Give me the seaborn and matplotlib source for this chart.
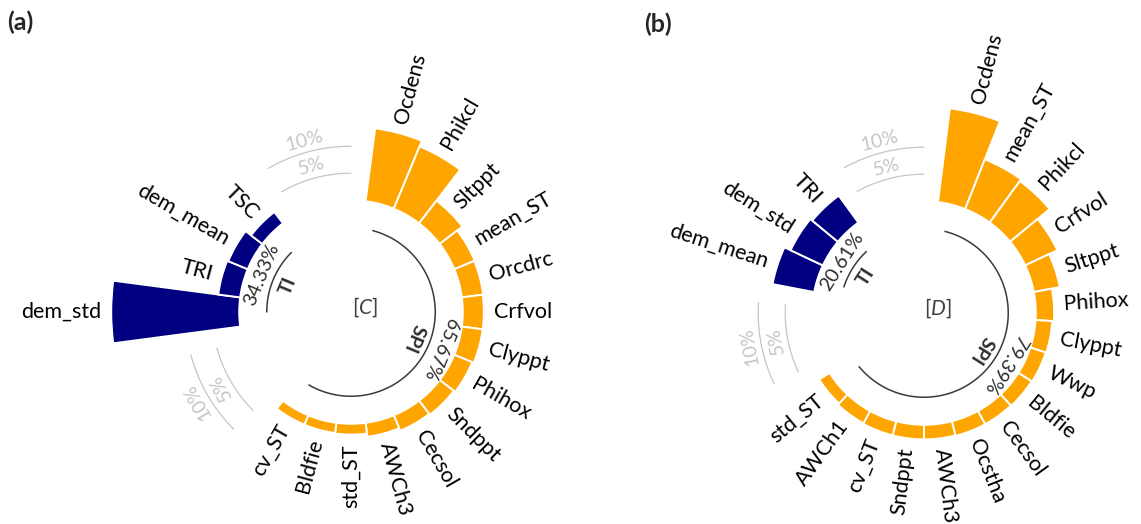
import numpy as np
import matplotlib
matplotlib.use("Agg")
import matplotlib.pyplot as plt
import seaborn as sns

# ---- relative importance (%) of the covariates -------------------------
# panel (a): [C]
a_ti_names = ["dem_std", "TRI", "dem_mean", "TSC"]
a_ti_vals = [23.7, 4.1, 3.9, 2.63]
a_spi_names = ["Ocdens", "Phikcl", "Sltppt", "mean_ST", "Orcdrc", "Crfvol", "Clyppt",
               "Phihox", "Sndppt", "Cecsol", "AWCh3", "std_ST", "Bldfie", "cv_ST"]
a_spi_vals = [13.6, 12.5, 5.3, 4.1, 4.0, 3.9, 3.9, 3.6, 3.3, 3.1, 2.6, 2.0, 1.9, 1.87]

# panel (b): [D]
b_ti_names = ["dem_mean", "dem_std", "TRI"]
b_ti_vals = [7.85, 6.6, 6.16]
b_spi_names = ["Ocdens", "mean_ST", "Phikcl", "Crfvol", "Sltppt", "Phihox", "Clyppt", "Wwp",
               "Bldfie", "Cecsol", "Ocstha", "AWCh3", "Sndppt", "cv_ST", "AWCh1", "std_ST"]
b_spi_vals = [17.5, 9.9, 9.5, 6.6, 4.9, 3.4, 3.1, 3.0, 2.9, 2.8, 2.8, 2.7, 2.7, 2.7, 2.6, 2.29]

grid_levels = [5, 10]
group_names = ["SPI", "TI"]

# ---- style ---------------------------------------------------------------
sns.set_theme(style="white")
plt.rcParams["font.family"] = ["Lato", "DejaVu Sans"]
plt.rcParams["mathtext.fontset"] = "custom"
plt.rcParams["mathtext.rm"] = "Lato"
plt.rcParams["mathtext.it"] = "Lato:italic"

SPI_COLOR, TI_COLOR = sns.color_palette(["#FFA500", "#000080"])
GRID_COLOR = "#c6c6c6"
ARC_COLOR = "#3a3a3a"

W, H = 1141, 524
PX_PER_UNIT = 5.4          # pixels per percent along the radius
HOLE = 20.7                # empty centre (percent units)
RMAX = 46.0
LABEL_PAD = 1.8
ARC_R = 15.6
PCT_R = 17.9
NAME_R = 12.7

fig = plt.figure(figsize=(W / 100, H / 100), dpi=100)


def polar_axes(cx, cy):
    half = RMAX * PX_PER_UNIT
    ax = fig.add_axes([(cx - half) / W, (H - cy - half) / H, 2 * half / W, 2 * half / H],
                      projection="polar")
    ax.set_theta_zero_location("E")
    ax.set_theta_direction(1)
    ax.set_ylim(0, RMAX)
    ax.set_axis_off()
    return ax


def arc(ax, t0, t1, r, color, lw):
    t = np.radians(np.linspace(t0, t1, 120))
    sns.lineplot(x=t, y=np.full_like(t, r), ax=ax, color=color, lw=lw,
                 sort=False, estimator=None)


def bar_labels(ax, thetas, vals, names):
    for t, v, name in zip(thetas, vals, names):
        d = t % 360
        if 90 < d <= 270:
            rot, ha = d - 180, "right"
        else:
            rot, ha = (d if d <= 90 else d - 360), "left"
        ax.text(np.radians(d), HOLE + v + LABEL_PAD, name, rotation=rot,
                rotation_mode="anchor", ha=ha, va="center", fontsize=15.5, color="black")


def group_arc(ax, t0, t1, title, vals):
    arc(ax, t0, t1, ARC_R, ARC_COLOR, 1.1)
    mid = (t0 + t1) / 2
    rot = mid - 90
    ax.text(np.radians(mid), PCT_R, f"{sum(vals):.2f}%", rotation=rot,
            rotation_mode="anchor", ha="center", va="center", fontsize=14, color="#2e2e2e")
    ax.text(np.radians(mid), NAME_R, title, rotation=rot, rotation_mode="anchor",
            ha="center", va="center", fontsize=14, fontweight="bold", color="#2e2e2e")


def draw_panel(ax, ti_names, ti_vals, spi_names, spi_vals, centre_text):
    n_spi, n_ti = len(spi_vals), len(ti_vals)
    n_slots = n_spi + n_ti + 6
    step = 360 / n_slots
    spi_theta = 90 - step * np.arange(1, n_spi + 1)
    ti_theta = 90 - step * np.arange(n_spi + 4, n_spi + 4 + n_ti)

    ax.bar(np.radians(spi_theta), spi_vals, width=np.radians(step), bottom=HOLE,
           color=SPI_COLOR, edgecolor="white", linewidth=1.4, zorder=3)
    ax.bar(np.radians(ti_theta), ti_vals, width=np.radians(step), bottom=HOLE,
           color=TI_COLOR, edgecolor="white", linewidth=1.4, zorder=3)

    bar_labels(ax, spi_theta, spi_vals, spi_names)
    bar_labels(ax, ti_theta, ti_vals, ti_names)

    # percentage scale in the two gaps
    top = (90, 90 + 2 * step)
    bottom = (90 - (n_spi + 1) * step, 90 - (n_spi + 3) * step)
    for t0, t1 in (top, bottom):
        mid = (t0 + t1) / 2
        for lev in grid_levels:
            arc(ax, t0, t1, HOLE + lev, GRID_COLOR, 0.9)
            ax.text(np.radians(mid), HOLE + lev + 2.2, f"{lev}%", rotation=mid - 90,
                    rotation_mode="anchor", ha="center", va="center", fontsize=14,
                    color=GRID_COLOR)

    group_arc(ax, spi_theta[0], spi_theta[-1], group_names[0], spi_vals)
    group_arc(ax, ti_theta[0], ti_theta[-1], group_names[1], ti_vals)

    ax.text(0.528, 0.51, centre_text, transform=ax.transAxes, ha="center", va="center",
            fontsize=15, color="#404040")


ax_a = polar_axes(351, 312)
draw_panel(ax_a, a_ti_names, a_ti_vals, a_spi_names, a_spi_vals, "[$C$]")
ax_b = polar_axes(924, 313)
draw_panel(ax_b, b_ti_names, b_ti_vals, b_spi_names, b_spi_vals, "[$D$]")

fig.text(7 / W, 1 - 22 / H, "(a)", fontsize=18, fontweight="bold", ha="left", va="center")
fig.text(644 / W, 1 - 24 / H, "(b)", fontsize=18, fontweight="bold", ha="left", va="center")

fig.savefig("out.png", dpi=100)
